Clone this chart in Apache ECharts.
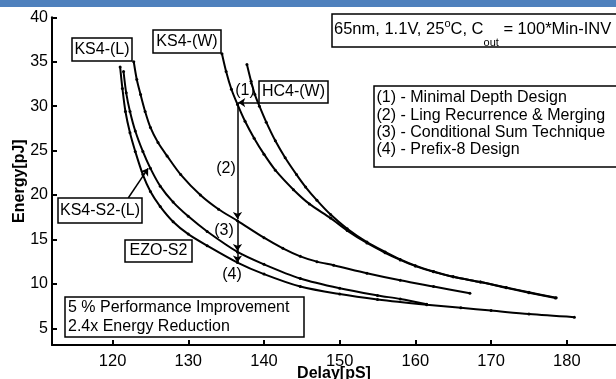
<!DOCTYPE html>
<html>
<head>
<meta charset="utf-8">
<script src="https://cdn.jsdelivr.net/npm/echarts@6/dist/echarts.min.js"></script>
<style>
  html, body { margin: 0; padding: 0; background: #fff; }
  #chart { width: 616px; height: 379px; }
</style>
</head>
<body>
<div id="chart"></div>
<script>
// curves: delay [pS] / energy [pJ]
const ks4wDelay = [134.45, 135.0, 135.7, 136.5, 137.5, 138.7, 140, 141.5, 143.9, 146, 148.8, 151, 153.6, 156, 158, 160, 162.4, 165, 168.6, 172, 175, 178.5];
const ks4wEnergy = [35.9, 33.9, 31.9, 30.2, 28.3, 26.4, 24.6, 22.8, 20.6, 19.0, 17.4, 16.0, 14.6, 13.5, 12.7, 12.0, 11.35, 10.8, 10.2, 9.55, 9.0, 8.4];

const hc4wDelay = [137.75, 138.3, 138.8, 139.4, 140.3, 141.5, 142.8, 144.3, 145.5, 147, 148.8, 151, 153.6, 156, 158, 160, 162.4, 165, 168.6, 172, 175, 178.6];
const hc4wEnergy = [34.7, 32.8, 31.3, 30.0, 28.2, 26.1, 24.2, 22.3, 20.9, 19.4, 17.8, 16.2, 14.7, 13.6, 12.75, 12.05, 11.4, 10.8, 10.2, 9.6, 9.05, 8.45];

const ks4lDelay = [122.8, 123.2, 123.7, 124.3, 125.0, 126.0, 127.2, 129.0, 131.6, 134.0, 136.5, 140, 142.5, 144.8, 147, 149.2, 153.6, 158, 162.4, 167.2];
const ks4lEnergy = [35.0, 33.0, 31.3, 29.4, 27.6, 25.9, 24.4, 22.3, 20.0, 18.4, 17.1, 15.2, 14.0, 13.1, 12.5, 12.1, 11.2, 10.4, 9.7, 8.95];

const ks4s2lDelay = [121.45, 121.8, 122.3, 123.0, 124.0, 125.0, 126.3, 128.0, 130.0, 132.5, 136.5, 140, 144.8, 150, 155, 158, 161.5];
const ks4s2lEnergy = [33.9, 31.5, 29.4, 27.2, 24.9, 23.0, 21.0, 19.2, 17.6, 15.9, 13.6, 12.2, 10.6, 9.5, 8.7, 8.3, 7.7];

const ezoDelay = [121.0, 121.3, 121.7, 122.3, 123.0, 124.0, 125.0, 126.3, 128.0, 130.0, 132.5, 136.5, 140, 144.8, 150, 155, 161.5, 166, 170, 175, 181];
const ezoEnergy = [34.4, 32.0, 29.4, 27.0, 24.9, 22.3, 20.4, 18.7, 17.0, 15.6, 14.3, 12.4, 11.1, 9.7, 8.85, 8.25, 7.65, 7.3, 7.0, 6.6, 6.25];

// tick labels
const xTicks = [120, 130, 140, 150, 160, 170, 180];
const yTicks = [5, 10, 15, 20, 25, 30, 35, 40];

// annotation arrows (data coords)
const arrowStarts = [[139.4, 30.4], [136.5, 30.4], [136.5, 17.2], [136.5, 13.6], [122.07, 19.66]];
const arrowEnds = [[136.6, 30.4], [136.5, 17.3], [136.5, 13.7], [136.5, 12.4], [124.7, 23.0]];

const zip = (xs, ys) => xs.map((x, i) => [x, ys[i]]);

const chart = echarts.init(document.getElementById('chart'));

const FONT = 'Liberation Sans';

// text width helper for the info line with sub/superscripts
const ctx = document.createElement('canvas').getContext('2d');
const textW = (t, size) => { ctx.font = size + 'px "' + FONT + '"'; return ctx.measureText(t).width; };

const curve = (name, xs, ys) => ({
  name: name,
  type: 'line',
  data: zip(xs, ys),
  symbol: 'circle',
  symbolSize: 3,
  showSymbol: true,
  smooth: 0.3,
  lineStyle: { color: '#000', width: 2 },
  itemStyle: { color: '#000' },
  z: 3
});

// box with centered text
const box = (x, y, w, h, text) => ({
  type: 'group',
  children: [
    { type: 'rect', shape: { x: x, y: y, width: w, height: h }, style: { fill: '#fff', stroke: '#000', lineWidth: 1.5 }, z: 10 },
    { type: 'text', x: x + w / 2, y: y + h / 2, style: { text: text, font: '16px ' + FONT, fill: '#000', align: 'center', verticalAlign: 'middle' }, z: 11 }
  ]
});

const plain = (x, y, text, size) => ({
  type: 'text', x: x, y: y, z: 11,
  style: { text: text, font: (size || 16) + 'px ' + FONT, fill: '#000', align: 'left', verticalAlign: 'middle' }
});

const step = (x, y, text) => ({
  type: 'text', x: x, y: y, z: 11,
  style: { text: text, font: '16px ' + FONT, fill: '#000', align: 'center', verticalAlign: 'middle' }
});

// info line pieces
const infoX = 334, infoSize = 16.5, smallSize = 11;
const p1 = '65nm, 1.1V, 25', p2 = 'o', p3 = 'C, C', p4 = 'out', p5 = ' = 100*Min-INV';
const x2 = infoX + textW(p1, infoSize);
const x3 = x2 + textW(p2, smallSize);
const x4 = x3 + textW(p3, infoSize);
const x5 = x4 + textW(p4, smallSize);

const option = {
  animation: false,
  backgroundColor: '#fff',
  grid: { left: 52, right: 0, top: 17.3, bottom: 34, outerBoundsMode: 'none', containLabel: false },
  xAxis: {
    type: 'value',
    min: 112,
    max: 186.5,
    name: 'Delay[pS]',
    nameLocation: 'middle',
    nameGap: 21,
    nameMoveOverlap: false,
    nameTextStyle: { fontFamily: FONT, fontSize: 16, fontWeight: 'bold', color: '#000', verticalAlign: 'top' },
    axisLine: { lineStyle: { color: '#000', width: 2 } },
    axisTick: { inside: true, length: 5, lineStyle: { color: '#000', width: 2 }, customValues: xTicks },
    axisLabel: { fontFamily: FONT, fontSize: 16.5, color: '#000', margin: 8, customValues: xTicks },
    splitLine: { show: false }
  },
  yAxis: {
    type: 'value',
    min: 3.12,
    max: 40,
    name: 'Energy[pJ]',
    nameLocation: 'middle',
    nameGap: 24,
    nameMoveOverlap: false,
    nameTextStyle: { fontFamily: FONT, fontSize: 16, fontWeight: 'bold', color: '#000' },
    axisLine: { lineStyle: { color: '#000', width: 2 } },
    axisTick: { inside: true, length: 5, lineStyle: { color: '#000', width: 2 }, customValues: yTicks },
    axisLabel: { fontFamily: FONT, fontSize: 16, color: '#000', margin: 4, customValues: yTicks },
    splitLine: { show: false }
  },
  series: [
    curve('KS4-(W)', ks4wDelay, ks4wEnergy),
    curve('HC4-(W)', hc4wDelay, hc4wEnergy),
    curve('KS4-(L)', ks4lDelay, ks4lEnergy),
    curve('KS4-S2-(L)', ks4s2lDelay, ks4s2lEnergy),
    curve('EZO-S2', ezoDelay, ezoEnergy),
    {
      type: 'lines',
      coordinateSystem: 'cartesian2d',
      data: arrowStarts.map((s, i) => ({ coords: [s, arrowEnds[i]] })),
      symbol: ['none', 'arrow'],
      symbolSize: 7,
      lineStyle: { color: '#000', width: 1.5, opacity: 1 },
      z: 4
    }
  ],
  graphic: [
    { type: 'rect', shape: { x: 0, y: 0, width: 616, height: 7 }, style: { fill: '#4F81BD' }, z: 20 },
    box(72, 38, 60, 23, 'KS4-(L)'),
    box(153, 30, 68, 23, 'KS4-(W)'),
    box(259, 81, 69, 22, 'HC4-(W)'),
    box(58, 198, 84, 25, 'KS4-S2-(L)'),
    box(125, 240, 67, 22, 'EZO-S2'),
    // info box
    { type: 'rect', shape: { x: 332, y: 14, width: 300, height: 33 }, style: { fill: '#fff', stroke: '#000', lineWidth: 1.5 }, z: 10 },
    plain(infoX, 29.5, p1, infoSize),
    plain(x2, 23.5, p2, smallSize),
    plain(x3, 29.5, p3, infoSize),
    plain(x4, 43, p4, smallSize),
    plain(x5, 29.5, p5, infoSize),
    // technique legend
    { type: 'rect', shape: { x: 374, y: 86, width: 260, height: 81 }, style: { fill: '#fff', stroke: '#000', lineWidth: 1.5 }, z: 10 },
    plain(376.5, 98, '(1) - Minimal Depth Design'),
    plain(376.5, 115.3, '(2) - Ling Recurrence & Merging'),
    plain(376.5, 132.6, '(3) - Conditional Sum Technique'),
    plain(376.5, 150, '(4) - Prefix-8 Design'),
    // summary box
    { type: 'rect', shape: { x: 65, y: 297, width: 239, height: 40 }, style: { fill: '#fff', stroke: '#000', lineWidth: 1.5 }, z: 10 },
    plain(68, 308, '5 % Performance Improvement'),
    plain(68, 327, '2.4x Energy Reduction'),
    // step markers
    step(245, 91, '(1)'),
    step(226, 169, '(2)'),
    step(224, 231, '(3)'),
    step(232, 275, '(4)')
  ]
};

chart.setOption(option);
</script>
</body>
</html>
